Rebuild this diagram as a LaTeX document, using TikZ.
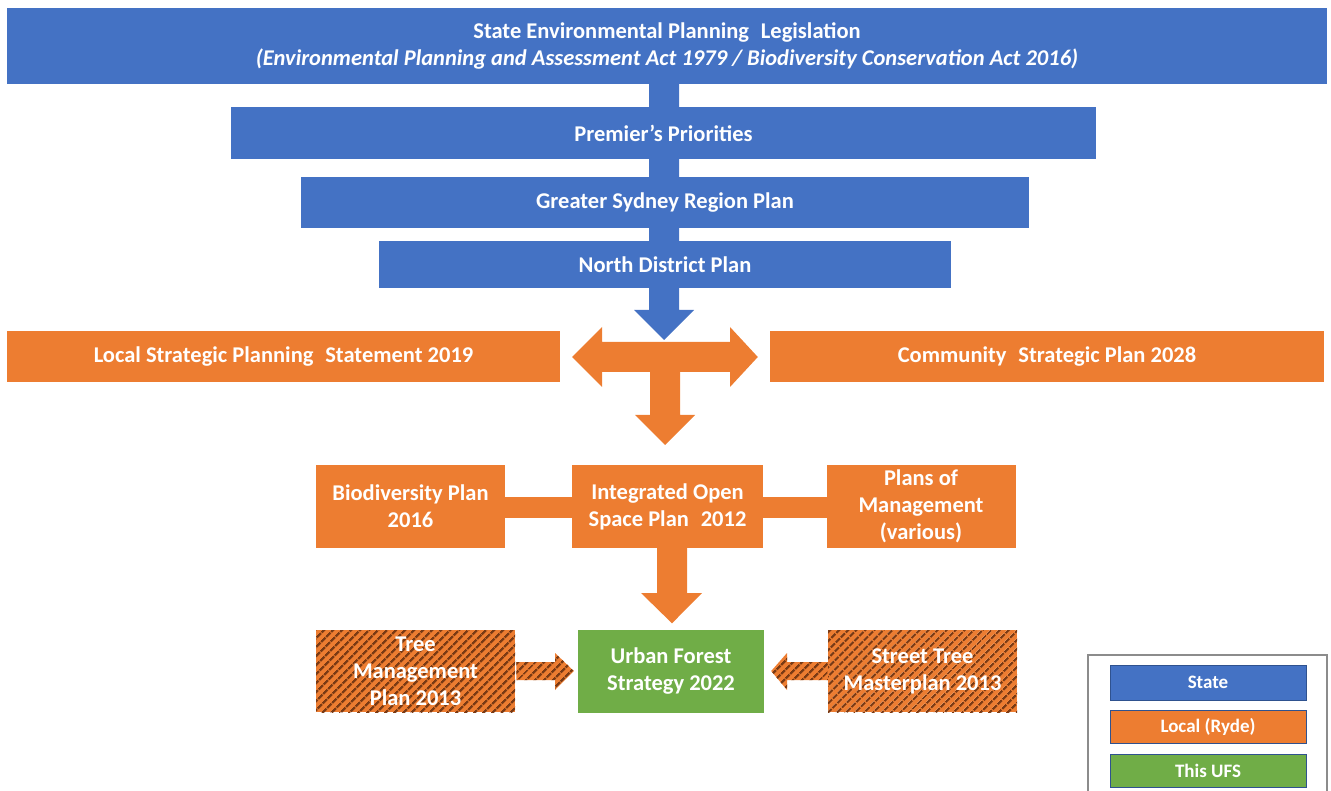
\documentclass[tikz,border=0pt]{standalone}
\usepackage{fontspec}
\setmainfont{Carlito}
\usetikzlibrary{patterns.meta,calc}
\definecolor{sblue}{HTML}{4472C4}
\definecolor{lorange}{HTML}{ED7D31}
\definecolor{ugreen}{HTML}{70AD47}
\definecolor{hatchc}{HTML}{7A3A14}
\definecolor{legbord}{HTML}{2F528F}
\definecolor{leggray}{HTML}{8C8C8C}
\begin{document}
\begin{tikzpicture}[x=1pt,y=-1pt,
  blk/.style={rectangle, inner sep=0pt, align=center, text=white,
    font=\bfseries\fontsize{22.5}{27}\selectfont},
  stbox/.style={blk, fill=sblue},
  lcbox/.style={blk, fill=lorange},
  hatchbox/.style={blk, preaction={fill=lorange},
    pattern={Lines[angle=45,distance=6.5pt,line width=2.6pt]}, pattern color=hatchc},
  ufsbox/.style={blk, fill=ugreen},
  hatcharrow/.style={preaction={fill=lorange},
    pattern={Lines[angle=45,distance=6.5pt,line width=2.6pt]}, pattern color=hatchc},
  legbox/.style={rectangle, inner sep=0pt, text=white, draw=legbord, line width=1pt,
    minimum width=196pt, minimum height=33pt, font=\bfseries\fontsize{19}{21}\selectfont}
]
\useasboundingbox (0,0) rectangle (1331,791);

% top banner
\node[stbox, minimum width=1320pt, minimum height=76pt] (top) at (667,46)
  {State Environmental Planning\hspace{0.3em} Legislation\\
   \textit{(Environmental Planning and Assessment Act 1979 / Biodiversity Conservation Act 2016)}};

% blue down arrow (behind the state boxes)
\fill[sblue] (top.south -| 649,0) -- (top.south -| 679,0) -- (679,310) -- (694,310)
  -- (664,340) -- (634,310) -- (649,310) -- cycle;

\node[stbox, minimum width=865pt, minimum height=52pt] (pp) at (663.5,133) {Premier’s Priorities};
\node[stbox, minimum width=728pt, minimum height=51pt] (gs) at (665,202.5) {Greater Sydney Region Plan};
\node[stbox, minimum width=572pt, minimum height=47pt] (nd) at (665,264.5) {North District Plan};

% local strategic row
\node[lcbox, minimum width=553pt, minimum height=51pt] (lsps) at (283.5,356.5) {Local Strategic Planning\hspace{0.3em} Statement 2019};
\node[lcbox, minimum width=554pt, minimum height=51pt] (csp) at (1047,356.5) {Community\hspace{0.3em} Strategic Plan 2028};

% orange cross arrow
\coordinate (crossL) at ($(lsps.east)+(12,0.5)$);
\coordinate (crossR) at ($(csp.west)+(-12,0.5)$);
\fill[lorange] (crossL) -- (602,327) -- (602,342) -- (730,342) -- (730,327) -- (crossR)
  -- (730,387) -- (730,372) -- (680,372) -- (680,415) -- (695,415) -- (665,445)
  -- (635,415) -- (650,415) -- (650,372) -- (602,372) -- (602,387) -- cycle;

% middle row
\node[lcbox, minimum width=189pt, minimum height=83pt] (bio) at (410.5,506.5) {Biodiversity Plan\\2016};
\node[lcbox, minimum width=189pt, minimum height=83pt] (pom) at (921,506.5) {Plans of\\Management\\(various)};
\fill[lorange] ($(bio.east)+(-1,-10)$) rectangle ($(pom.west)+(1,11)$);
\node[lcbox, minimum width=191pt, minimum height=83pt] (iosp) at (667.5,506.5) {Integrated Open\\Space Plan\hspace{0.3em} 2012};

% bottom row
\node[hatchbox, minimum width=199pt, minimum height=82pt] (tmp) at (415.5,671) {Tree\\Management\\Plan 2013};
\node[ufsbox, minimum width=186pt, minimum height=83pt] (ufs) at (671,671) {Urban Forest\\Strategy 2022};
\node[hatchbox, minimum width=189pt, minimum height=82pt] (stm) at (922.5,671) {Street Tree\\Masterplan 2013};

% arrow IOSP -> UFS
\fill[lorange] (iosp.south -| 657,0) -- (iosp.south -| 687,0) -- (687,593) -- (702,593)
  -- ($(ufs.north)+(1,-6)$) -- (641,593) -- (657,593) -- cycle;

% hatched arrows
\path[hatcharrow] ($(tmp.east)+(0,-9)$) -- (555,662) -- (555,653) -- ($(ufs.west)+(-4,0)$)
  -- (555,690) -- (555,680) -- ($(tmp.east)+(0,9)$) -- cycle;
\path[hatcharrow] ($(stm.west)+(0,-9)$) -- (787,662) -- (787,653) -- ($(ufs.east)+(7,0)$)
  -- (787,690) -- (787,680) -- ($(stm.west)+(0,9)$) -- cycle;

% legend
\draw[leggray, line width=2pt] (1088,795) -- (1088,655) -- (1327,655) -- (1327,795);
\node[legbox, fill=sblue, minimum height=35pt] (lgs) at (1208,682.5) {State};
\node[legbox, fill=lorange] (lgl) at (1208,726.5) {Local (Ryde)};
\node[legbox, fill=ugreen] (lgu) at (1208,770.5) {This UFS};
\end{tikzpicture}
\end{document}
